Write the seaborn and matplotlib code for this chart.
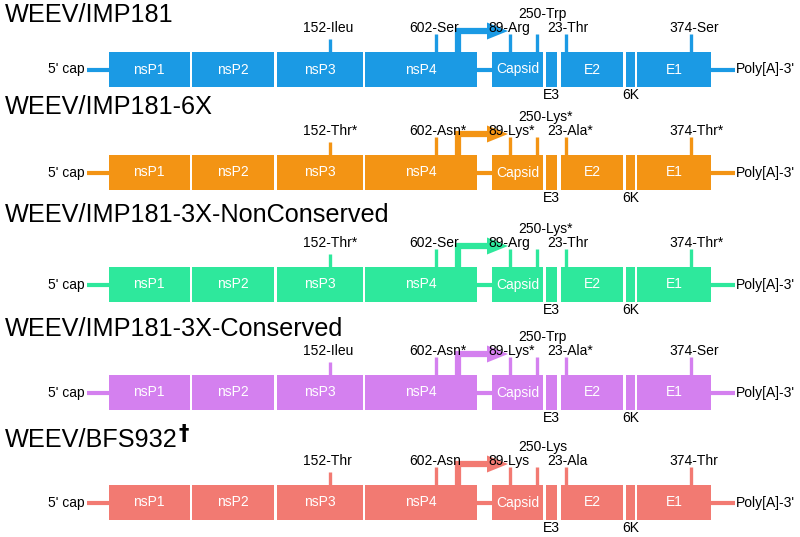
import numpy as np
import seaborn as sns
import matplotlib.pyplot as plt

# strains, top to bottom
strains = ["WEEV/IMP181", "WEEV/IMP181-6X", "WEEV/IMP181-3X-NonConserved",
           "WEEV/IMP181-3X-Conserved", "WEEV/BFS932"]
strain_colors = ["#1b9ae4", "#f39414", "#2ee89c", "#d480ef", "#f27a72"]

# genome segments (diagram units along the genome)
segments = ["nsP1", "nsP2", "nsP3", "nsP4", "Capsid", "E3", "E2", "6K", "E1"]
seg_start = [109, 191.5, 276.5, 365, 492, 546, 561, 626, 637]
seg_end = [189.5, 273.5, 362.5, 477, 543, 557, 623, 635, 711]
small_segments = ["E3", "6K"]   # labelled below the box
cap5_start = 87
poly3_end = 735
promoter_x = 458                # subgenomic promoter arrow

# mutation sites
mut_pos = [330, 436, 510, 537, 566, 691]
mut_label_x = [303, 409, 488, 518, 547, 669]
mut_labels = [
    ["152-Ileu", "602-Ser", "89-Arg", "250-Trp", "23-Thr", "374-Ser"],
    ["152-Thr*", "602-Asn*", "89-Lys*", "250-Lys*", "23-Ala*", "374-Thr*"],
    ["152-Thr*", "602-Ser", "89-Arg", "250-Lys*", "23-Thr", "374-Thr*"],
    ["152-Ileu", "602-Asn*", "89-Lys*", "250-Trp", "23-Ala*", "374-Ser"],
    ["152-Thr", "602-Asn", "89-Lys", "250-Lys", "23-Ala", "374-Thr"],
]

# layout (pixels)
box_top = [52, 155, 267, 375, 485]
title_y = [14.5, 107, 215, 329, 440]
box_h = 35

sns.set_theme(style="white")
plt.rcParams['font.family'] = ['Liberation Sans', 'DejaVu Sans']
plt.rcParams['text.color'] = 'black'
palette = sns.color_palette(strain_colors)

fig = plt.figure(figsize=(8, 5.37), dpi=100)
ax = fig.add_axes([0, 0, 1, 1])
ax.set_xlim(0, 800)
ax.set_ylim(537, 0)
ax.axis("off")

starts = np.array(seg_start)
ends = np.array(seg_end)

for i, strain in enumerate(strains):
    c = palette[i]
    top = box_top[i]
    cy = top + box_h / 2

    ax.text(5, title_y[i], strain, fontsize=18.2, va="center", ha="left")

    # backbone lines
    ax.plot([cap5_start, seg_start[0]], [cy, cy], color=c, lw=3, solid_capstyle="butt")
    ax.plot([seg_end[3], seg_start[4]], [cy, cy], color=c, lw=3, solid_capstyle="butt")
    ax.plot([seg_end[-1], poly3_end], [cy, cy], color=c, lw=3, solid_capstyle="butt")
    ax.text(cap5_start - 2, cy, "5' cap", fontsize=10, ha="right", va="center")
    ax.text(poly3_end + 1, cy, "Poly[A]-3'", fontsize=10, ha="left", va="center")

    # segments
    ax.barh(cy, ends - starts, left=starts, height=box_h, color=c, linewidth=0)
    for name, s, e in zip(segments, seg_start, seg_end):
        if name in small_segments:
            ax.text((s + e) / 2, top + box_h + 1, name, fontsize=10,
                    ha="center", va="top")
        else:
            ax.text((s + e) / 2, cy, name, fontsize=10, color="white",
                    ha="center", va="center")

    # mutation ticks
    for j, (mx, lx, lab) in enumerate(zip(mut_pos, mut_label_x, mut_labels[i])):
        tick_len = 13 if j == 0 else 18
        ax.plot([mx, mx], [top, top - tick_len], color=c, lw=2.4, solid_capstyle="butt")
        raise_by = 34 if j == 3 else 20
        ax.text(lx, top - raise_by, lab, fontsize=10, ha="left", va="baseline", zorder=5)

    # subgenomic promoter arrow
    ay = top - 21
    ax.plot([promoter_x, promoter_x, promoter_x + 31], [top, ay, ay], color=c,
            lw=4.5, solid_joinstyle="miter", solid_capstyle="butt")
    ax.fill([promoter_x + 29, promoter_x + 29, promoter_x + 50],
            [ay - 8.5, ay + 8.5, ay], color=c, linewidth=0)

# dagger after last strain name
fig.canvas.draw()
last = ax.texts[[t.get_text() for t in ax.texts].index(strains[-1])]
bb = last.get_window_extent()
x_end = ax.transData.inverted().transform((bb.x1, bb.y1))
ax.text(x_end[0] + 1, title_y[-1] - 6, "\u2020", fontsize=15, fontweight="bold",
        ha="left", va="center", family=["DejaVu Sans"])

fig.savefig("out.png", dpi=100)
